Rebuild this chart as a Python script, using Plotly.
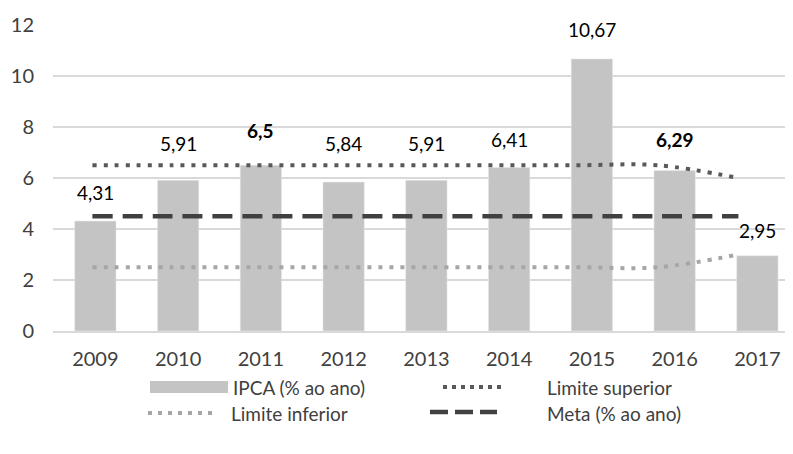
import plotly.graph_objects as go

# ---- data ----
years = ["2009", "2010", "2011", "2012", "2013", "2014", "2015", "2016", "2017"]
ipca = [4.31, 5.91, 6.5, 5.84, 5.91, 6.41, 10.67, 6.29, 2.95]
ipca_labels = ["4,31", "5,91", "6,5", "5,84", "5,91", "6,41", "10,67", "6,29", "2,95"]
bold_labels = ["2011", "2016"]
limite_superior = [6.5, 6.5, 6.5, 6.5, 6.5, 6.5, 6.5, 6.5, 6.0]
limite_inferior = [2.5, 2.5, 2.5, 2.5, 2.5, 2.5, 2.5, 2.5, 3.0]
meta = [4.5, 4.5, 4.5, 4.5, 4.5, 4.5, 4.5, 4.5, 4.5]
y_ticks = [0, 2, 4, 6, 8, 10, 12]

# label vertical offsets (px above bar top)
label_shift = [29, 37, 35, 39, 37, 28, 29, 31, 25]

# ---- layout constants ----
W, H = 793, 454
L, R, T, B = 45, 0, 17, 131
FONT = "Lato, 'Open Sans', sans-serif"
BAR_C = "#c4c4c4"
SUP_C = "#595959"
INF_C = "#a6a6a6"
META_C = "#404040"
TXT_C = "#404040"
GRID_C = "#d9d9d9"

def px(x):
    return (x - L) / (W - L - R)

def py(y):
    return (H - B - y) / (H - T - B)

fig = go.Figure()
fig.add_trace(go.Bar(x=years, y=ipca, marker_color=BAR_C, name="IPCA (% ao ano)",
                     showlegend=False))
fig.add_trace(go.Scatter(x=years, y=limite_superior, mode="lines", name="Limite superior",
                         xaxis="x2",
                         line=dict(color=SUP_C, width=4, dash="4px,7px", shape="spline"),
                         showlegend=False))
fig.add_trace(go.Scatter(x=years, y=limite_inferior, mode="lines", name="Limite inferior",
                         xaxis="x2",
                         line=dict(color=INF_C, width=4, dash="4px,7px", shape="spline"),
                         showlegend=False))
fig.add_trace(go.Scatter(x=years, y=meta, mode="lines", name="Meta (% ao ano)",
                         xaxis="x2",
                         line=dict(color=META_C, width=4.5, dash="20px,10px", shape="spline"),
                         showlegend=False))

annotations = []
for i, (yr, v, lab, s) in enumerate(zip(years, ipca, ipca_labels, label_shift)):
    txt = f"<b>{lab}</b>" if yr in bold_labels else lab
    annotations.append(dict(x=i, y=v, xref="x", yref="y", text=txt, showarrow=False,
                            yshift=s, xanchor="center", yanchor="middle",
                            font=dict(family=FONT, size=19, color="#000000")))

# custom legend
shapes = []
shapes.append(dict(type="rect", xref="paper", yref="paper",
                   x0=px(142), x1=px(220), y0=py(385), y1=py(373),
                   fillcolor=BAR_C, line=dict(width=0)))
shapes.append(dict(type="line", xref="paper", yref="paper",
                   x0=px(435), x1=px(494), y0=py(379), y1=py(379),
                   line=dict(color=SUP_C, width=4, dash="4px,5px")))
shapes.append(dict(type="line", xref="paper", yref="paper",
                   x0=px(140), x1=px(209), y0=py(405), y1=py(405),
                   line=dict(color=INF_C, width=4, dash="4px,6px")))
shapes.append(dict(type="line", xref="paper", yref="paper",
                   x0=px(422), x1=px(489), y0=py(404), y1=py(404),
                   line=dict(color=META_C, width=4.5, dash="18px,7px")))

legend_items = [("IPCA (% ao ano)", 223, 379), ("Limite superior", 537, 379),
                ("Limite inferior", 221, 405), ("Meta (% ao ano)", 537, 405)]
for text, x, y in legend_items:
    annotations.append(dict(xref="paper", yref="paper", x=px(x), y=py(y), text=text,
                            showarrow=False, xanchor="left", yanchor="middle",
                            font=dict(family=FONT, size=19, color=TXT_C)))

fig.update_layout(
    width=W, height=H,
    margin=dict(l=L, r=R, t=T, b=B, pad=0),
    paper_bgcolor="white", plot_bgcolor="white",
    bargap=0.5,
    showlegend=False,
    annotations=annotations,
    shapes=shapes,
    font=dict(family=FONT, size=19, color=TXT_C),
    xaxis=dict(type="category", categoryorder="array", categoryarray=years,
               range=[-0.512, 8.527], showgrid=False, showline=True,
               linecolor=GRID_C, linewidth=1.5, ticks="", ticklabelstandoff=9,
               tickfont=dict(family=FONT, size=20, color=TXT_C)),
    xaxis2=dict(type="category", categoryorder="array", categoryarray=years,
                overlaying="x", range=[-0.488, 8.775], visible=False),
    yaxis=dict(range=[0, 12], tickvals=y_ticks, showgrid=True, gridcolor=GRID_C,
               gridwidth=1.5, zeroline=False, showline=False, ticks="",
               ticklabelstandoff=18,
               tickfont=dict(family=FONT, size=20, color=TXT_C)),
)

fig.write_html("out.html")
